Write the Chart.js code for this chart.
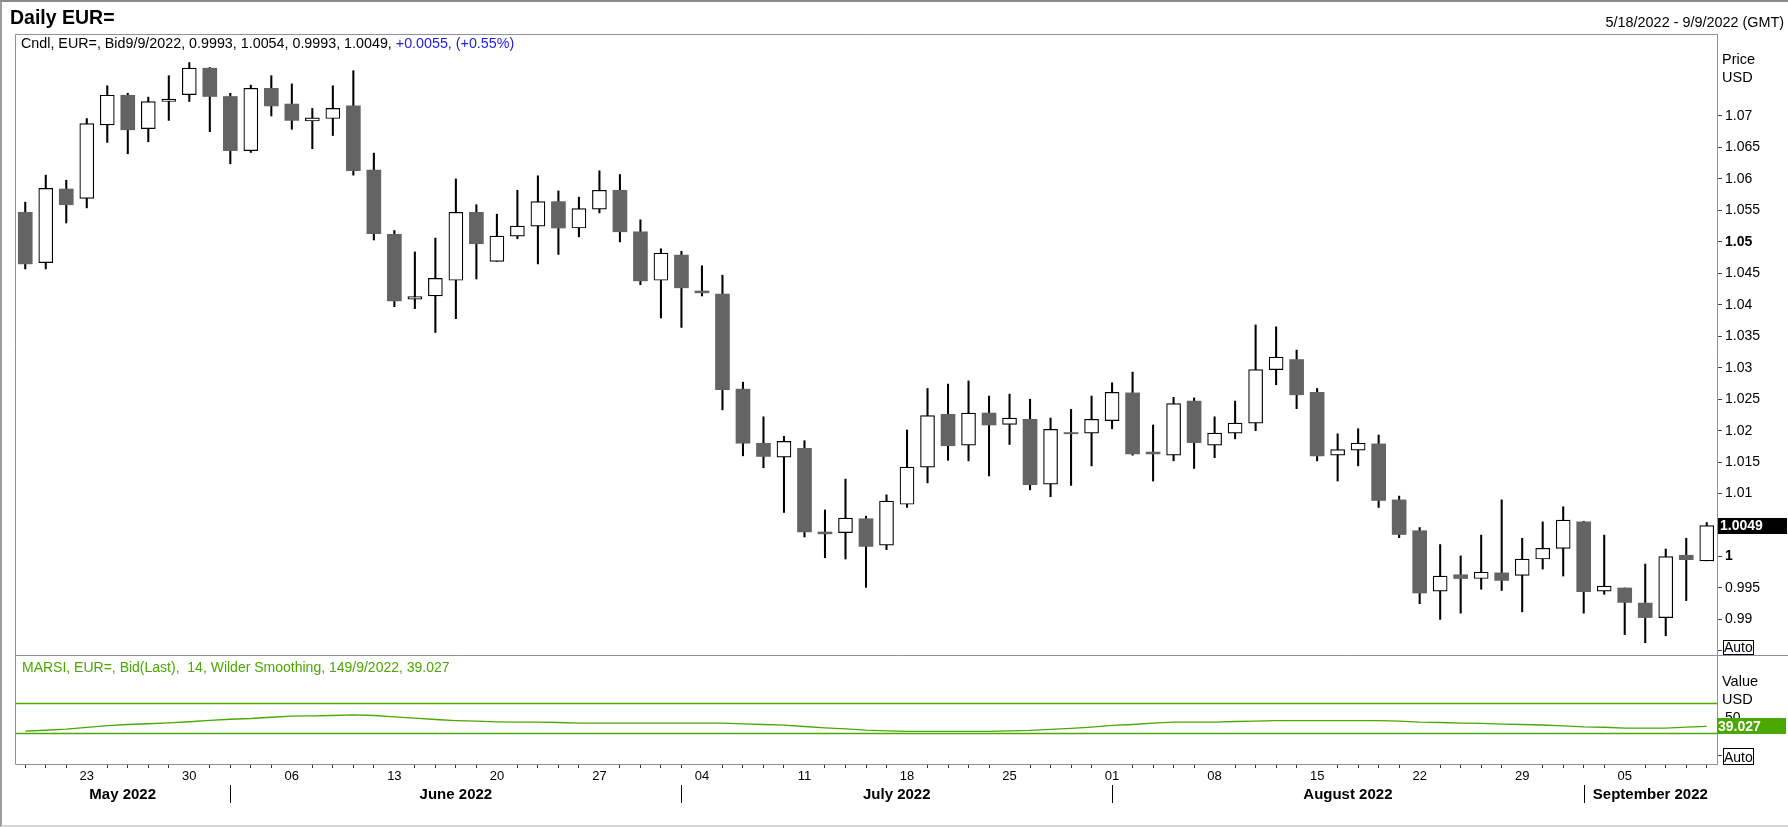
<!DOCTYPE html>
<html>
<head>
<meta charset="utf-8">
<script src="https://cdn.jsdelivr.net/npm/chart.js@4.4.0/dist/chart.umd.min.js"></script>
<style>
  html, body { margin: 0; padding: 0; background: #fff; }
  #wrap { position: relative; width: 1788px; height: 827px; overflow: hidden; font-family: Arial, "Liberation Sans", sans-serif; }
  #wrap canvas { position: absolute; left: 0; top: 0; }
  .txt { position: absolute; white-space: pre; line-height: 1; }
  #border { position: absolute; left: 0; top: 0; width: 1788px; height: 827px; box-sizing: border-box;
            border-top: 2px solid #8a8a8a; border-left: 2px solid #9c9c9c; border-bottom: 2px solid #d6d6d6; }
</style>
</head>
<body>
<div id="wrap">
  <canvas id="price" width="1788" height="827"></canvas>
  <canvas id="rsi" width="1788" height="827"></canvas>
  <div id="border"></div>
  <div class="txt" style="left:10px; top:7.5px; font-size:19.5px; font-weight:bold; color:#000;">Daily EUR=</div>
  <div class="txt" style="left:21px; top:36px; font-size:14.3px; color:#000;">Cndl, EUR=, Bid9/9/2022, 0.9993, 1.0054, 0.9993, 1.0049, <span style="color:#1e1ee0;">+0.0055, (+0.55%)</span></div>
  <div class="txt" style="right:4px; top:14.8px; font-size:14.4px; color:#000;">5/18/2022 - 9/9/2022 (GMT)</div>
  <div class="txt" style="left:22px; top:659.6px; font-size:14px; color:#4aa800;">MARSI, EUR=, Bid(Last),  14, Wilder Smoothing, 149/9/2022, 39.027</div>
</div>
<script>
// trading days shown on the chart
const dates = [
  "2022-05-18","2022-05-19","2022-05-20","2022-05-23","2022-05-24","2022-05-25","2022-05-26","2022-05-27","2022-05-30","2022-05-31",
  "2022-06-01","2022-06-02","2022-06-03","2022-06-06","2022-06-07","2022-06-08","2022-06-09","2022-06-10","2022-06-13","2022-06-14",
  "2022-06-15","2022-06-16","2022-06-17","2022-06-20","2022-06-21","2022-06-22","2022-06-23","2022-06-24","2022-06-27","2022-06-28",
  "2022-06-29","2022-06-30","2022-07-01","2022-07-04","2022-07-05","2022-07-06","2022-07-07","2022-07-08","2022-07-11","2022-07-12",
  "2022-07-13","2022-07-14","2022-07-15","2022-07-18","2022-07-19","2022-07-20","2022-07-21","2022-07-22","2022-07-25","2022-07-26",
  "2022-07-27","2022-07-28","2022-07-29","2022-08-01","2022-08-02","2022-08-03","2022-08-04","2022-08-05","2022-08-08","2022-08-09",
  "2022-08-10","2022-08-11","2022-08-12","2022-08-15","2022-08-16","2022-08-17","2022-08-18","2022-08-19","2022-08-22","2022-08-23",
  "2022-08-24","2022-08-25","2022-08-26","2022-08-29","2022-08-30","2022-08-31","2022-09-01","2022-09-02","2022-09-05","2022-09-06",
  "2022-09-07","2022-09-08","2022-09-09"
];

const opens = [
  1.0547, 1.0467, 1.0584, 1.0569, 1.0686, 1.0733, 1.0680, 1.0723, 1.0734, 1.0776,
  1.0731, 1.0645, 1.0744, 1.0719, 1.0692, 1.0696, 1.0716, 1.0614, 1.0512, 1.0409,
  1.0414, 1.0439, 1.0547, 1.0469, 1.0509, 1.0525, 1.0564, 1.0522, 1.0552, 1.0582,
  1.0516, 1.0439, 1.0479, 1.0422, 1.0417, 1.0266, 1.0180, 1.0158, 1.0172, 1.0039,
  1.0038, 1.0060, 1.0018, 1.0083, 1.0142, 1.0226, 1.0177, 1.0228, 1.0210, 1.0218,
  1.0115, 1.0197, 1.0196, 1.0216, 1.0260, 1.0166, 1.0161, 1.0247, 1.0177, 1.0196,
  1.0212, 1.0297, 1.0313, 1.0261, 1.0161, 1.0169, 1.0179, 1.0090, 1.0041, 0.9945,
  0.9971, 0.9965, 0.9974, 0.9970, 0.9996, 1.0013, 1.0055, 0.9945, 0.9950, 0.9926,
  0.9903, 1.0002, 0.9993
];
const highs = [
  1.0563, 1.0606, 1.0598, 1.0696, 1.0748, 1.0736, 1.0730, 1.0764, 1.0785, 1.0777,
  1.0736, 1.0749, 1.0764, 1.0751, 1.0712, 1.0748, 1.0772, 1.0641, 1.0518, 1.0484,
  1.0506, 1.0600, 1.0559, 1.0544, 1.0582, 1.0605, 1.0581, 1.0571, 1.0613, 1.0607,
  1.0535, 1.0489, 1.0485, 1.0462, 1.0447, 1.0277, 1.0222, 1.0191, 1.0184, 1.0074,
  1.0123, 1.0064, 1.0098, 1.0201, 1.0267, 1.0274, 1.0279, 1.0255, 1.0258, 1.0250,
  1.0220, 1.0234, 1.0255, 1.0276, 1.0293, 1.0209, 1.0253, 1.0252, 1.0222, 1.0247,
  1.0368, 1.0365, 1.0328, 1.0267, 1.0195, 1.0203, 1.0193, 1.0096, 1.0046, 1.0019,
  1.0001, 1.0034, 1.0090, 1.0029, 1.0055, 1.0079, 1.0056, 1.0034, 0.9950, 0.9988,
  1.0012, 1.0029, 1.0054
];
const lows = [
  1.0457, 1.0457, 1.0530, 1.0554, 1.0658, 1.0640, 1.0659, 1.0693, 1.0723, 1.0675,
  1.0624, 1.0642, 1.0700, 1.0679, 1.0648, 1.0669, 1.0606, 1.0503, 1.0397, 1.0394,
  1.0356, 1.0378, 1.0441, 1.0469, 1.0505, 1.0465, 1.0480, 1.0508, 1.0546, 1.0500,
  1.0432, 1.0379, 1.0364, 1.0414, 1.0233, 1.0160, 1.0141, 1.0070, 1.0031, 0.9998,
  0.9996, 0.9951, 1.0011, 1.0078, 1.0117, 1.0153, 1.0152, 1.0128, 1.0178, 1.0106,
  1.0095, 1.0113, 1.0144, 1.0203, 1.0161, 1.0120, 1.0152, 1.0140, 1.0157, 1.0187,
  1.0200, 1.0273, 1.0235, 1.0152, 1.0120, 1.0144, 1.0078, 1.0030, 0.9925, 0.9900,
  0.9910, 0.9948, 0.9946, 0.9912, 0.9980, 0.9969, 0.9910, 0.9940, 0.9876, 0.9863,
  0.9874, 0.9930, 0.9993
];
const closes = [
  1.0465, 1.0585, 1.0559, 1.0688, 1.0733, 1.0678, 1.0723, 1.0727, 1.0776, 1.0731,
  1.0645, 1.0744, 1.0716, 1.0693, 1.0697, 1.0712, 1.0613, 1.0513, 1.0406, 1.0413,
  1.0442, 1.0547, 1.0497, 1.0509, 1.0525, 1.0564, 1.0522, 1.0553, 1.0582, 1.0516,
  1.0438, 1.0482, 1.0427, 1.0419, 1.0265, 1.0180, 1.0159, 1.0183, 1.0039, 1.0036,
  1.0061, 1.0016, 1.0088, 1.0142, 1.0224, 1.0176, 1.0228, 1.0209, 1.0220, 1.0114,
  1.0202, 1.0195, 1.0218, 1.0261, 1.0163, 1.0163, 1.0243, 1.0181, 1.0196, 1.0212,
  1.0297, 1.0317, 1.0257, 1.0160, 1.0170, 1.0180, 1.0089, 1.0035, 0.9942, 0.9969,
  0.9965, 0.9975, 0.9962, 0.9996, 1.0013, 1.0058, 0.9944, 0.9953, 0.9927, 0.9903,
  1.0000, 0.9995, 1.0049
];

// MARSI (14, Wilder smoothing)
const rsi = [
  32.6, 33.8, 35.4, 37.7, 39.9, 41.5, 42.5, 43.8, 45.2, 47.0,
  48.5, 49.5, 51.2, 52.6, 53.1, 53.5, 54.4, 53.5, 51.7, 50.0,
  48.2, 46.8, 46.0, 45.1, 44.6, 44.6, 44.2, 43.3, 43.3, 43.3,
  43.3, 43.3, 43.3, 43.3, 43.3, 42.4, 41.5, 40.6, 38.8, 37.1,
  35.7, 34.0, 33.1, 32.2, 32.2, 32.2, 32.2, 32.2, 33.1, 33.6,
  34.9, 36.2, 38.0, 40.2, 41.5, 43.3, 44.6, 44.6, 44.6, 45.5,
  46.0, 46.8, 46.8, 46.8, 46.8, 46.8, 46.8, 46.0, 44.6, 44.2,
  43.3, 43.0, 42.0, 41.5, 40.8, 39.7, 38.2, 37.8, 36.7, 36.7,
  36.7, 38.0, 39.03
];
const rsiLevels = [70, 30];

const priceTicks = [0.985, 0.99, 0.995, 1, 1.005, 1.01, 1.015, 1.02, 1.025, 1.03, 1.035, 1.04, 1.045, 1.05, 1.055, 1.06, 1.065, 1.07];
const priceTickLabels = ["", "0.99", "0.995", "1", "1.005", "1.01", "1.015", "1.02", "1.025", "1.03", "1.035", "1.04", "1.045", "1.05", "1.055", "1.06", "1.065", "1.07"];
const boldTicks = [1, 1.05];
const rsiTicks = [0, 50];
const rsiTickLabels = ["", "50"];
const monthNames = ["May 2022", "June 2022", "July 2022", "August 2022", "September 2022"];

const FONT = 'Arial, "Liberation Sans", sans-serif';
const FRAME = '#8e8ea4';
const GREEN = '#4aa800';
const DOWN = '#646464';

Chart.defaults.font.family = FONT;
Chart.defaults.color = '#000';

function dayLabel(i) {
  const d = new Date(dates[i] + 'T00:00:00Z');
  return d.getUTCDay() === 1 ? dates[i].slice(8) : '';
}

function autoBox(ctx, x, yTop, yBottom) {
  ctx.fillStyle = '#fff';
  ctx.fillRect(x, yTop, 30, yBottom - yTop);
  ctx.strokeStyle = '#000';
  ctx.lineWidth = 1;
  ctx.strokeRect(x + 0.5, yTop + 0.5, 30, yBottom - yTop - 1);
  ctx.fillStyle = '#000';
  ctx.font = '14px ' + FONT;
  ctx.textBaseline = 'alphabetic';
  ctx.textAlign = 'left';
  ctx.fillText('Auto', x + 1, yBottom - 3.5);
}

const priceDecor = {
  id: 'priceDecor',
  afterDraw(chart) {
    const { ctx, chartArea: a, scales } = chart;
    ctx.save();
    ctx.strokeStyle = FRAME;
    ctx.lineWidth = 1;
    ctx.beginPath();
    ctx.moveTo(a.left + 0.5, a.bottom);
    ctx.lineTo(a.left + 0.5, a.top + 0.5);
    ctx.lineTo(a.right + 0.5, a.top + 0.5);
    ctx.lineTo(a.right + 0.5, a.bottom);
    ctx.moveTo(a.left, a.bottom + 0.5);
    ctx.lineTo(chart.width, a.bottom + 0.5);
    ctx.stroke();

    ctx.fillStyle = '#000';
    ctx.font = '14.5px ' + FONT;
    ctx.textAlign = 'left';
    ctx.textBaseline = 'alphabetic';
    ctx.fillText('Price', a.right + 5, 63.5);
    ctx.fillText('USD', a.right + 5, 81.5);

    const last = closes[closes.length - 1];
    const yl = scales.y.getPixelForValue(last);
    ctx.fillStyle = '#000';
    ctx.fillRect(a.right + 1, Math.round(yl) - 8, 69, 16);
    ctx.fillStyle = '#fff';
    ctx.font = 'bold 14px ' + FONT;
    ctx.textBaseline = 'middle';
    ctx.fillText(last.toFixed(4), a.right + 3, yl + 0.5);

    autoBox(ctx, a.right + 6, 640, a.bottom);
    ctx.restore();
  }
};

const rsiDecor = {
  id: 'rsiDecor',
  beforeDatasetsDraw(chart) {
    const { ctx, chartArea: a, scales } = chart;
    ctx.save();
    ctx.strokeStyle = GREEN;
    ctx.lineWidth = 1.3;
    rsiLevels.forEach(v => {
      const y = Math.round(scales.y.getPixelForValue(v)) + 0.5;
      ctx.beginPath();
      ctx.moveTo(a.left, y);
      ctx.lineTo(a.right, y);
      ctx.stroke();
    });
    ctx.restore();
  },
  afterDraw(chart) {
    const { ctx, chartArea: a, scales } = chart;
    ctx.save();
    ctx.strokeStyle = FRAME;
    ctx.lineWidth = 1;
    ctx.beginPath();
    ctx.moveTo(a.left + 0.5, a.top);
    ctx.lineTo(a.left + 0.5, a.bottom + 0.5);
    ctx.lineTo(a.right + 0.5, a.bottom + 0.5);
    ctx.lineTo(a.right + 0.5, a.top);
    ctx.stroke();

    ctx.fillStyle = '#000';
    ctx.font = '14.5px ' + FONT;
    ctx.textAlign = 'left';
    ctx.textBaseline = 'alphabetic';
    ctx.fillText('Value', a.right + 5, 686);
    ctx.fillText('USD', a.right + 5, 704);

    const last = rsi[rsi.length - 1];
    const yl = scales.y.getPixelForValue(39.027);
    ctx.fillStyle = GREEN;
    ctx.fillRect(a.right, Math.round(yl) - 8, 69, 16);
    ctx.fillStyle = '#fff';
    ctx.font = 'bold 14px ' + FONT;
    ctx.textBaseline = 'middle';
    ctx.fillText('39.027', a.right + 1, yl + 0.5);

    autoBox(ctx, a.right + 6, 748, a.bottom + 1);

    // month bands
    const x = scales.x;
    const bounds = [a.left];
    dates.forEach((d, i) => {
      if (i > 0 && d.slice(5, 7) !== dates[i - 1].slice(5, 7)) bounds.push(x.getPixelForValue(i));
    });
    bounds.push(a.right);
    ctx.strokeStyle = '#000';
    ctx.lineWidth = 1;
    for (let k = 1; k < bounds.length - 1; k++) {
      const px = Math.round(bounds[k]) + 0.5;
      ctx.beginPath();
      ctx.moveTo(px, 785);
      ctx.lineTo(px, 803);
      ctx.stroke();
    }
    ctx.fillStyle = '#000';
    ctx.font = 'bold 15px ' + FONT;
    ctx.textAlign = 'center';
    ctx.textBaseline = 'alphabetic';
    monthNames.forEach((m, k) => {
      ctx.fillText(m, (bounds[k] + bounds[k + 1]) / 2, 798.5);
    });
    ctx.restore();
  }
};

new Chart(document.getElementById('price'), {
  type: 'bar',
  data: {
    labels: dates,
    datasets: [
      {
        label: 'body',
        data: opens.map((o, i) => [o, closes[i]]),
        backgroundColor: ctx => closes[ctx.dataIndex] >= opens[ctx.dataIndex] ? '#ffffff' : DOWN,
        borderColor: ctx => closes[ctx.dataIndex] >= opens[ctx.dataIndex] ? '#000000' : DOWN,
        borderWidth: ctx => closes[ctx.dataIndex] >= opens[ctx.dataIndex] ? 1.2 : 0,
        borderSkipped: false,
        barThickness: 14,
        grouped: false,
        order: 0
      },
      {
        label: 'wick',
        data: lows.map((l, i) => [l, highs[i]]),
        backgroundColor: '#000',
        borderWidth: 0,
        barThickness: 1.4,
        grouped: false,
        order: 1
      }
    ]
  },
  options: {
    responsive: false,
    animation: false,
    events: [],
    layout: { padding: { left: 15, top: 34, right: 0, bottom: 172 } },
    plugins: { legend: { display: false }, tooltip: { enabled: false } },
    scales: {
      x: { display: false, offset: true },
      y: {
        position: 'right',
        min: 0.98435,
        max: 1.08303,
        border: { display: false },
        grid: { drawOnChartArea: false, drawTicks: true, tickLength: 5, color: '#444' },
        afterBuildTicks: s => { s.ticks = priceTicks.map(v => ({ value: v })); },
        afterFit: s => { s.width = 71; },
        ticks: {
          padding: 3,
          color: '#000',
          autoSkip: false,
          font: ctx => ({ family: FONT, size: 14, weight: boldTicks.includes(ctx.tick && ctx.tick.value) ? 'bold' : 'normal' }),
          callback: (v, i) => priceTickLabels[priceTicks.indexOf(v)]
        }
      }
    }
  },
  plugins: [priceDecor]
});

new Chart(document.getElementById('rsi'), {
  type: 'line',
  data: {
    labels: dates,
    datasets: [{
      label: 'MARSI',
      data: rsi,
      borderColor: GREEN,
      borderWidth: 1.3,
      pointRadius: 0,
      fill: false,
      tension: 0
    }]
  },
  options: {
    responsive: false,
    animation: false,
    events: [],
    layout: { padding: { left: 15, top: 655, right: 0, bottom: 0 } },
    plugins: { legend: { display: false }, tooltip: { enabled: false } },
    scales: {
      x: {
        offset: true,
        border: { display: false },
        grid: {
          offset: false,
          drawOnChartArea: false,
          drawTicks: true,
          tickLength: 4,
          color: ctx => dayLabel(ctx.index) ? 'rgba(0,0,0,0)' : '#333'
        },
        afterFit: s => { s.height = 63; },
        ticks: {
          autoSkip: false,
          maxRotation: 0,
          minRotation: 0,
          padding: 1,
          color: '#000',
          font: { family: FONT, size: 13 },
          callback: (v, i) => dayLabel(i)
        }
      },
      y: {
        position: 'right',
        min: -11.3,
        max: 134.4,
        border: { display: false },
        grid: { drawOnChartArea: false, drawTicks: true, tickLength: 5, color: '#444' },
        afterBuildTicks: s => { s.ticks = rsiTicks.map(v => ({ value: v })); },
        afterFit: s => { s.width = 71; },
        ticks: {
          padding: 3,
          color: '#000',
          font: { family: FONT, size: 14 },
          callback: (v) => rsiTickLabels[rsiTicks.indexOf(v)]
        }
      }
    }
  },
  plugins: [rsiDecor]
});
</script>
</body>
</html>
